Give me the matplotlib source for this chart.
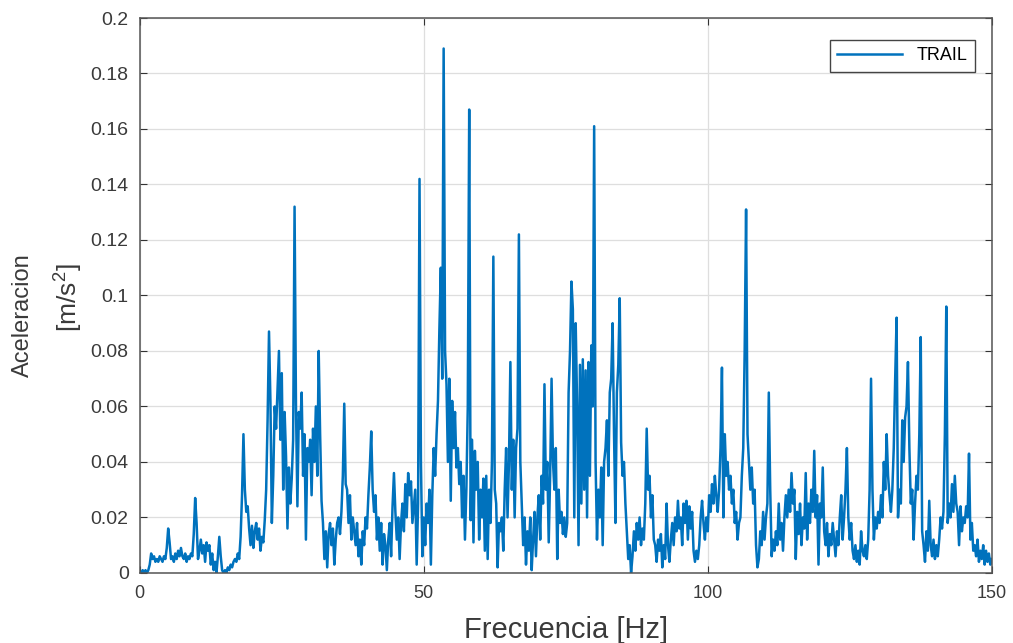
import numpy as np
import matplotlib
matplotlib.use('Agg')
import matplotlib.pyplot as plt

plt.rcParams['font.family'] = ['Liberation Sans', 'DejaVu Sans']
plt.rcParams['mathtext.fontset'] = 'custom'
plt.rcParams['mathtext.rm'] = 'Liberation Sans'

# acceleration spectrum, one value every 0.25 Hz from 0 to 150 Hz
freq_step = 0.25
accel = [
    # 0 - 4.75 Hz
    0.000, 0.000, 0.001, 0.000, 0.001, 0.000, 0.001, 0.003, 0.007, 0.005,
    0.006, 0.004, 0.005, 0.004, 0.006, 0.005, 0.004, 0.006, 0.005, 0.009,
    # 5 - 9.75 Hz
    0.016, 0.011, 0.005, 0.006, 0.004, 0.007, 0.005, 0.008, 0.006, 0.009,
    0.006, 0.005, 0.007, 0.004, 0.006, 0.005, 0.007, 0.006, 0.014, 0.027,
    # 10 - 14.75 Hz
    0.018, 0.005, 0.008, 0.012, 0.007, 0.010, 0.004, 0.011, 0.008, 0.010,
    0.003, 0.007, 0.001, 0.004, 0.000, 0.006, 0.013, 0.006, 0.001, 0.000,
    # 15 - 19.75 Hz
    0.001, 0.000, 0.002, 0.001, 0.003, 0.002, 0.004, 0.005, 0.004, 0.007,
    0.005, 0.013, 0.028, 0.050, 0.030, 0.022, 0.024, 0.016, 0.010, 0.017,
    # 20 - 24.75 Hz
    0.009, 0.015, 0.018, 0.012, 0.016, 0.008, 0.013, 0.011, 0.019, 0.030,
    0.055, 0.087, 0.062, 0.018, 0.035, 0.060, 0.052, 0.066, 0.080, 0.048,
    # 25 - 29.75 Hz
    0.072, 0.030, 0.058, 0.042, 0.016, 0.038, 0.025, 0.034, 0.048, 0.132,
    0.060, 0.024, 0.058, 0.052, 0.065, 0.035, 0.050, 0.012, 0.045, 0.040,
    # 30 - 34.75 Hz
    0.048, 0.028, 0.052, 0.040, 0.060, 0.035, 0.080, 0.050, 0.026, 0.018,
    0.005, 0.015, 0.002, 0.014, 0.018, 0.010, 0.016, 0.003, 0.012, 0.018,
    # 35 - 39.75 Hz
    0.020, 0.014, 0.022, 0.035, 0.061, 0.032, 0.030, 0.018, 0.028, 0.012,
    0.020, 0.015, 0.010, 0.018, 0.006, 0.012, 0.003, 0.015, 0.010, 0.020,
    # 40 - 44.75 Hz
    0.016, 0.028, 0.038, 0.051, 0.030, 0.022, 0.028, 0.012, 0.020, 0.008,
    0.018, 0.003, 0.014, 0.010, 0.001, 0.012, 0.018, 0.006, 0.024, 0.036,
    # 45 - 49.75 Hz
    0.022, 0.012, 0.020, 0.005, 0.018, 0.025, 0.015, 0.032, 0.020, 0.036,
    0.028, 0.033, 0.018, 0.024, 0.030, 0.003, 0.025, 0.142, 0.040, 0.006,
    # 50 - 54.75 Hz
    0.020, 0.010, 0.025, 0.018, 0.030, 0.003, 0.028, 0.045, 0.035, 0.050,
    0.062, 0.088, 0.110, 0.070, 0.189, 0.080, 0.068, 0.040, 0.070, 0.026,
    # 55 - 59.75 Hz
    0.062, 0.045, 0.058, 0.038, 0.045, 0.032, 0.040, 0.020, 0.035, 0.012,
    0.030, 0.060, 0.167, 0.019, 0.048, 0.011, 0.044, 0.030, 0.040, 0.012,
    # 60 - 64.75 Hz
    0.030, 0.020, 0.034, 0.008, 0.035, 0.005, 0.030, 0.018, 0.040, 0.114,
    0.030, 0.025, 0.002, 0.018, 0.015, 0.020, 0.008, 0.030, 0.045, 0.020,
    # 65 - 69.75 Hz
    0.040, 0.076, 0.030, 0.048, 0.020, 0.045, 0.052, 0.122, 0.040, 0.025,
    0.010, 0.020, 0.003, 0.015, 0.008, 0.020, 0.001, 0.012, 0.022, 0.006,
    # 70 - 74.75 Hz
    0.020, 0.028, 0.012, 0.035, 0.025, 0.068, 0.030, 0.040, 0.011, 0.035,
    0.070, 0.040, 0.030, 0.045, 0.005, 0.030, 0.018, 0.022, 0.014, 0.020,
    # 75 - 79.75 Hz
    0.013, 0.018, 0.065, 0.080, 0.105, 0.095, 0.020, 0.090, 0.060, 0.010,
    0.075, 0.025, 0.077, 0.030, 0.073, 0.020, 0.076, 0.035, 0.082, 0.060,
    # 80 - 84.75 Hz
    0.161, 0.040, 0.012, 0.030, 0.020, 0.038, 0.010, 0.040, 0.045, 0.055,
    0.035, 0.065, 0.070, 0.090, 0.050, 0.018, 0.065, 0.075, 0.099, 0.047,
    # 85 - 89.75 Hz
    0.035, 0.040, 0.025, 0.015, 0.005, 0.010, 0.000, 0.006, 0.015, 0.008,
    0.018, 0.012, 0.020, 0.010, 0.016, 0.012, 0.025, 0.052, 0.030, 0.035,
    # 90 - 94.75 Hz
    0.020, 0.028, 0.012, 0.010, 0.004, 0.012, 0.008, 0.014, 0.002, 0.010,
    0.005, 0.025, 0.010, 0.004, 0.012, 0.018, 0.010, 0.020, 0.015, 0.026,
    # 95 - 99.75 Hz
    0.016, 0.020, 0.010, 0.025, 0.018, 0.026, 0.012, 0.024, 0.016, 0.022,
    0.008, 0.004, 0.008, 0.005, 0.010, 0.020, 0.026, 0.018, 0.012, 0.020,
    # 100 - 104.75 Hz
    0.015, 0.028, 0.022, 0.032, 0.025, 0.035, 0.028, 0.022, 0.030, 0.045,
    0.074, 0.020, 0.050, 0.035, 0.040, 0.030, 0.035, 0.025, 0.030, 0.018,
    # 105 - 109.75 Hz
    0.022, 0.012, 0.018, 0.020, 0.035, 0.045, 0.080, 0.131, 0.050, 0.040,
    0.030, 0.038, 0.025, 0.030, 0.010, 0.002, 0.005, 0.015, 0.010, 0.022,
    # 110 - 114.75 Hz
    0.012, 0.020, 0.025, 0.065, 0.030, 0.006, 0.012, 0.008, 0.015, 0.010,
    0.025, 0.012, 0.018, 0.008, 0.020, 0.028, 0.020, 0.030, 0.022, 0.036,
    # 115 - 119.75 Hz
    0.025, 0.030, 0.005, 0.022, 0.014, 0.025, 0.010, 0.020, 0.016, 0.036,
    0.012, 0.025, 0.018, 0.030, 0.022, 0.044, 0.020, 0.028, 0.003, 0.025,
    # 120 - 124.75 Hz
    0.020, 0.038, 0.015, 0.010, 0.018, 0.006, 0.014, 0.010, 0.018, 0.012,
    0.006, 0.015, 0.010, 0.020, 0.028, 0.012, 0.020, 0.030, 0.045, 0.020,
    # 125 - 129.75 Hz
    0.012, 0.018, 0.008, 0.005, 0.010, 0.004, 0.008, 0.003, 0.015, 0.008,
    0.006, 0.010, 0.005, 0.012, 0.030, 0.070, 0.030, 0.012, 0.020, 0.016,
    # 130 - 134.75 Hz
    0.022, 0.018, 0.028, 0.020, 0.040, 0.030, 0.050, 0.035, 0.028, 0.022,
    0.030, 0.045, 0.070, 0.092, 0.020, 0.030, 0.025, 0.055, 0.040, 0.056,
    # 135 - 139.75 Hz
    0.060, 0.076, 0.045, 0.025, 0.030, 0.012, 0.025, 0.035, 0.030, 0.050,
    0.085, 0.015, 0.010, 0.004, 0.015, 0.008, 0.026, 0.010, 0.006, 0.012,
    # 140 - 144.75 Hz
    0.005, 0.010, 0.006, 0.012, 0.020, 0.016, 0.022, 0.050, 0.096, 0.018,
    0.025, 0.020, 0.032, 0.022, 0.035, 0.025, 0.022, 0.010, 0.024, 0.015,
    # 145 - 150 Hz
    0.020, 0.018, 0.024, 0.020, 0.043, 0.012, 0.018, 0.008, 0.010, 0.006,
    0.012, 0.004, 0.008, 0.005, 0.010, 0.003, 0.008, 0.004, 0.007, 0.003,
    0.005,
]
freq = np.arange(len(accel)) * freq_step

x_ticks = [0, 50, 100, 150]
y_ticks = [0, 0.02, 0.04, 0.06, 0.08, 0.1, 0.12, 0.14, 0.16, 0.18, 0.2]
y_tick_labels = ['0', '0.02', '0.04', '0.06', '0.08', '0.1', '0.12',
                 '0.14', '0.16', '0.18', '0.2']

text_color = '#3a3a3a'

fig = plt.figure(figsize=(10.13, 6.43), dpi=100)
ax = fig.add_axes([0.138, 0.109, 0.841, 0.863])

ax.plot(freq, accel, color='#0072BD', linewidth=1.8, label='TRAIL')

ax.set_xlim(0, 150)
ax.set_ylim(0, 0.2)
ax.set_xticks(x_ticks)
ax.set_yticks(y_ticks)
ax.set_yticklabels(y_tick_labels)
ax.grid(True, color='#dedede', linewidth=0.9)
ax.set_axisbelow(True)

ax.tick_params(direction='in', top=True, right=True, length=5, width=0.8,
               colors='#333333', labelcolor=text_color)
ax.tick_params(axis='y', labelsize=14, pad=8)
ax.tick_params(axis='x', labelsize=13, pad=9)
for s in ax.spines.values():
    s.set_color('#555555')
    s.set_linewidth(1.1)

ax.set_xlabel('Frecuencia [Hz]', fontsize=21, color=text_color, labelpad=10)

# two-line y label, each line placed on its own
fig.text(0.0227, 0.510, 'Aceleracion', rotation=90, fontsize=17,
         color=text_color, ha='center', va='center')
fig.text(0.0671, 0.5366, '[m/s$^2$]', rotation=90, fontsize=19,
         color=text_color, ha='center', va='center')

leg = ax.legend(loc='upper right', fontsize=13, frameon=True, fancybox=False,
                handlelength=3.6, borderpad=0.4, borderaxespad=0,
                bbox_to_anchor=(0.980, 0.960))
leg.get_frame().set_edgecolor('#444444')
leg.get_frame().set_linewidth(1.0)
leg.get_frame().set_alpha(1)

plt.savefig('out.png', dpi=100)
